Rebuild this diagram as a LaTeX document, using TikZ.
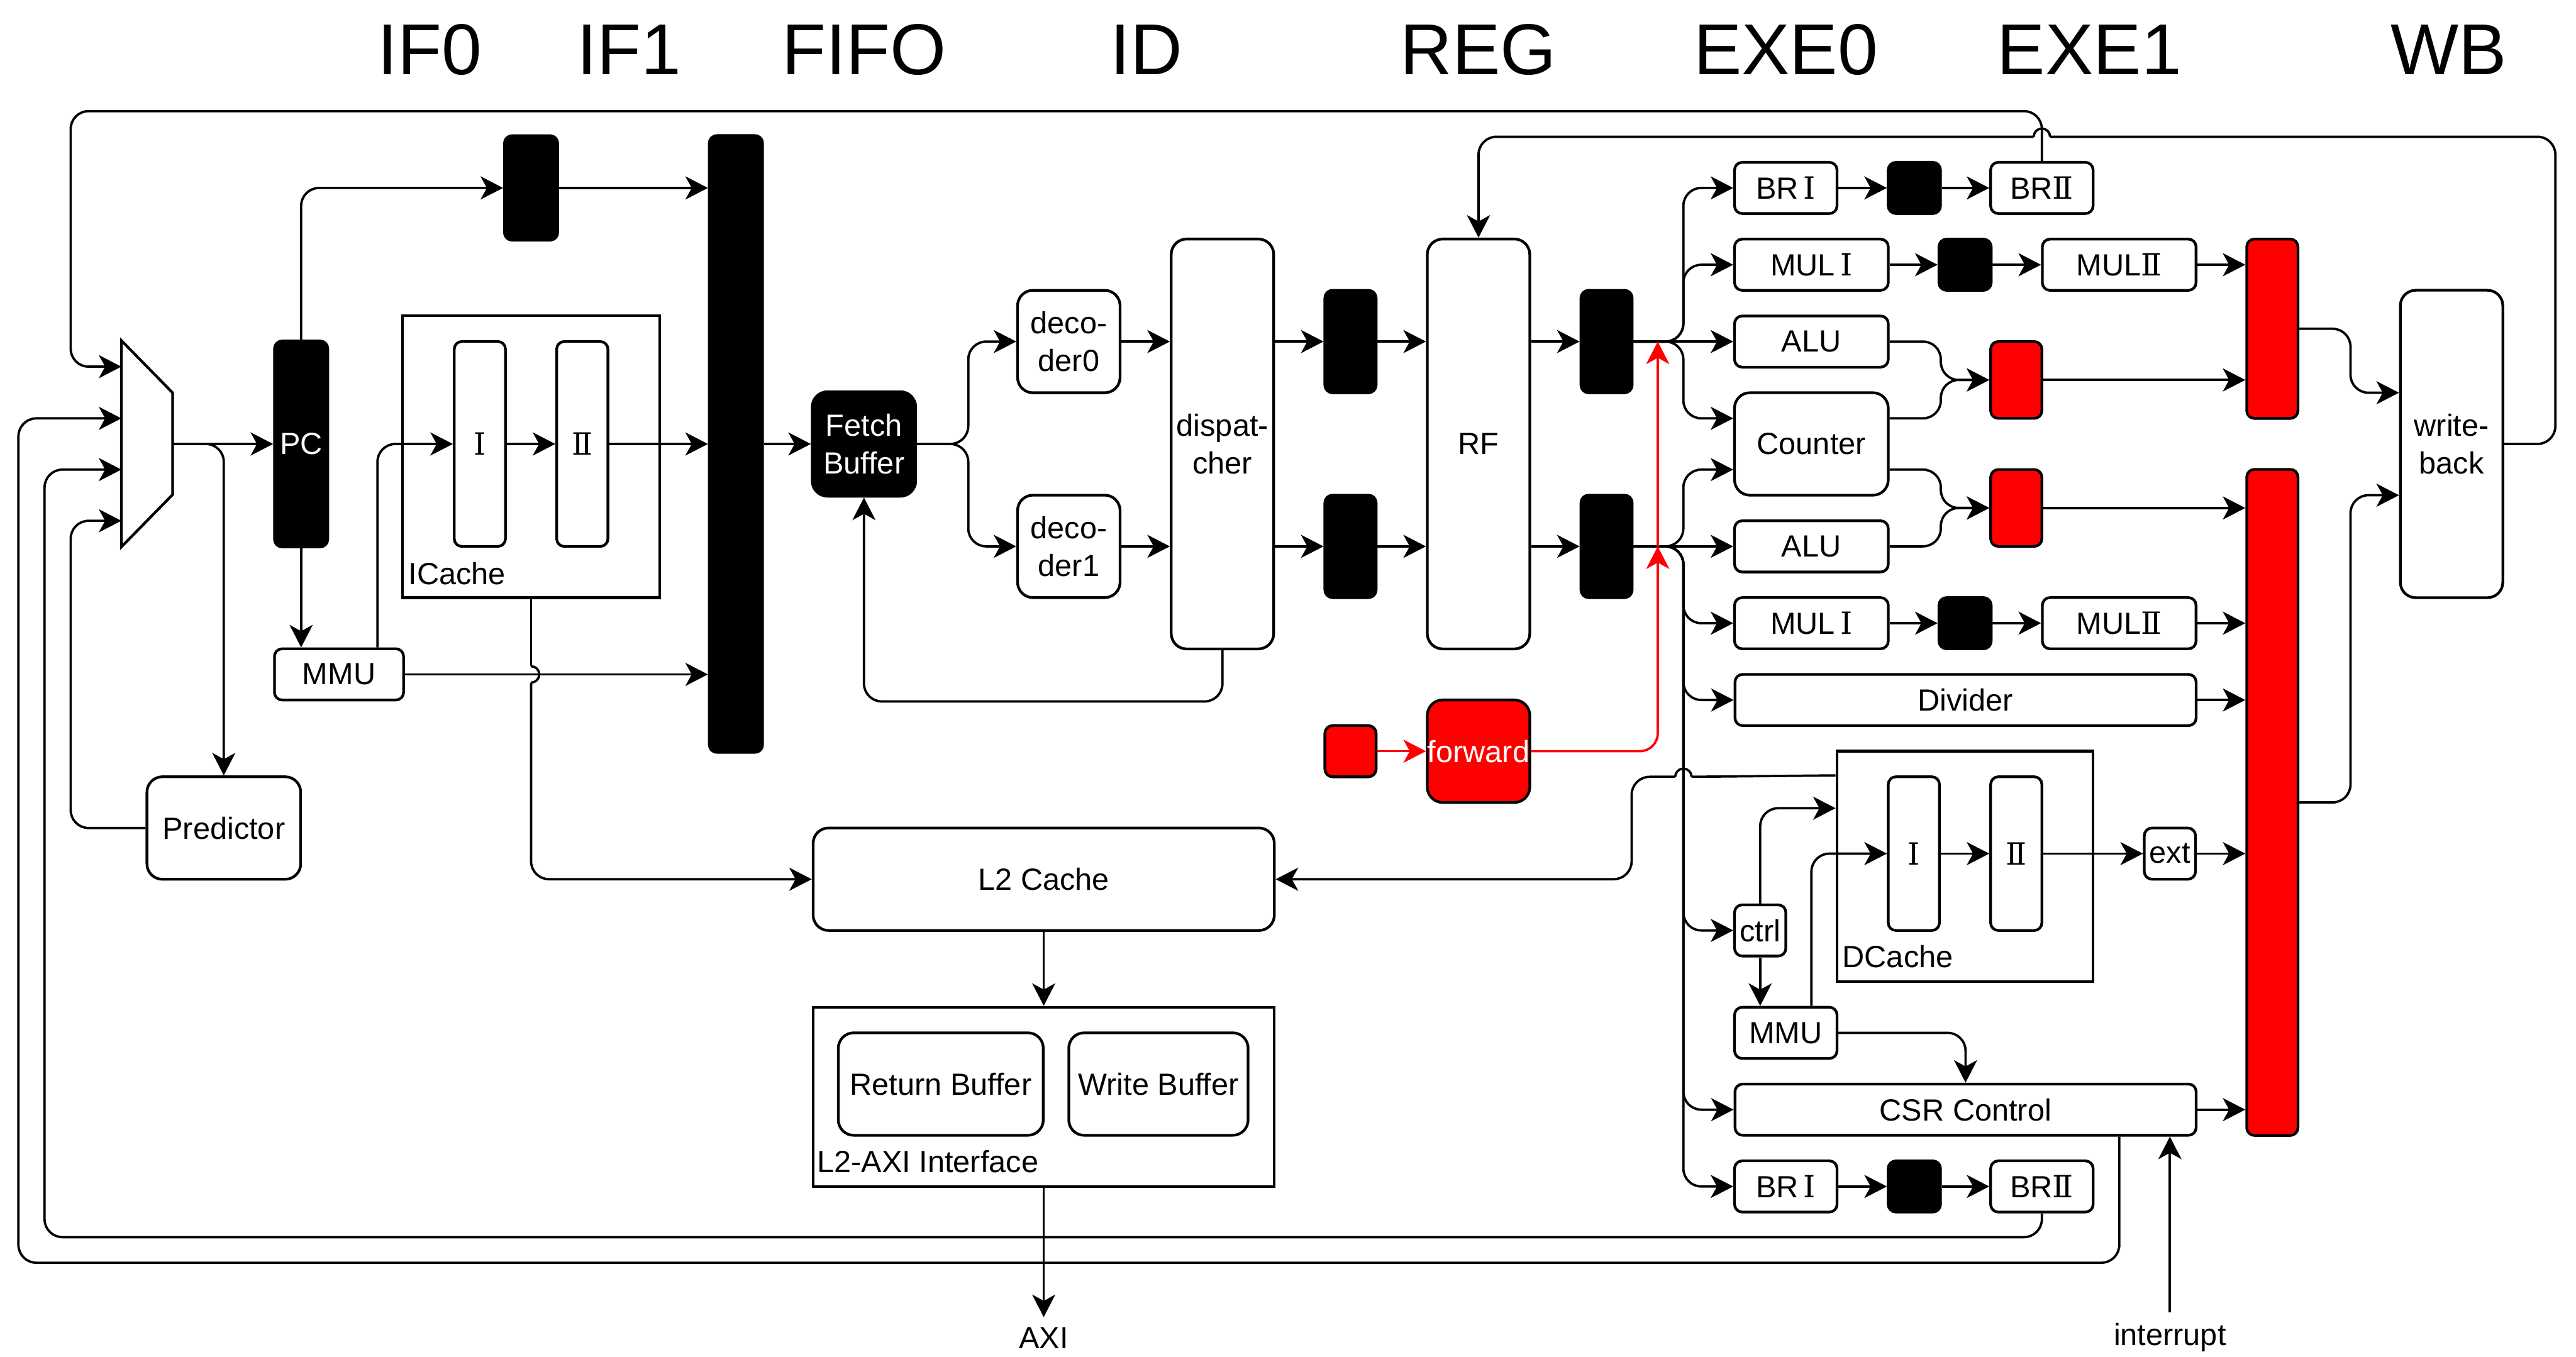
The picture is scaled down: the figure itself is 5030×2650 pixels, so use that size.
\documentclass[tikz,border=0pt]{standalone}
\usepackage{fontspec}
\setmainfont{Liberation Sans}
\newfontfamily\numfont{DejaVu Serif}
\usetikzlibrary{arrows.meta}
\definecolor{alarm}{RGB}{255,0,0}
\newcommand{\lblfont}{\fontsize{17}{21}\selectfont}
\newcommand{\stagefont}{\fontsize{40}{48}\selectfont}
\newcommand{\rnI}{{\numfont Ⅰ}}
\newcommand{\rnII}{{\numfont Ⅱ}}
\tikzset{
  >={Stealth[length=12.5pt,width=12.8pt,inset=3.5pt]},
  box/.style={draw=black,fill=white,line width=1.5pt,rounded corners=1.5mm,
    inner sep=0pt,align=center,font=\lblfont},
  big box/.style={box,rounded corners=3mm},
  reg/.style={box,fill=black,text=white},
  red reg/.style={box,fill=alarm},
  frame/.style={draw=black,line width=1.5pt,inner sep=0pt},
  sz/.style 2 args={minimum width=#1cm,minimum height=#2cm},
  flow/.style={->,line width=1.3pt,draw=#1,rounded corners=3.5mm},
  flow/.default=black,
  wire/.style={line width=1.3pt,rounded corners=3.5mm},
  tag/.style={font=\lblfont,inner sep=0pt},
  stage/.style={font=\stagefont,anchor=base,inner sep=0pt},
}

\begin{document}
\begin{tikzpicture}[x=0.01cm,y=-0.01cm]
  \fill[white] (0,0) rectangle (5030,2650);
  \useasboundingbox (0,0) rectangle (5030,2650);

  % stages
  \node[stage] (s-if0) at (839,145) {IF0};
  \node[stage] (s-if1) at (1228,145) {IF1};
  \node[stage] (s-fifo) at (1687,145) {FIFO};
  \node[stage] (s-id) at (2238,145) {ID};
  \node[stage] (s-reg) at (2887,145) {REG};
  \node[stage] (s-exe0) at (3487,145) {EXE0};
  \node[stage] (s-exe1) at (4080,145) {EXE1};
  \node[stage] (s-wb) at (4781,145) {WB};

  % fetch
  \draw[fill=white,line width=1.5pt] (237,665) -- (337,767) -- (337,966) -- (237,1068) -- cycle;
  \coordinate (mux-in1) at (237,716);
  \coordinate (mux-in2) at (237,817);
  \coordinate (mux-in3) at (237,917);
  \coordinate (mux-in4) at (237,1017);
  \coordinate (mux-out) at (337,867);
  \node[reg,sz={1.04}{4.02}] (pc) at (588,867) {PC};
  \node[reg,sz={1.04}{2.04}] (regif) at (1037,367) {};
  \node[reg,sz={1.04}{12.04}] (fifo) at (1437,867) {};
  \node[frame,sz={5.02}{5.5}] (icache) at (1037,892) {};
  \node[tag,anchor=base west] (icache-lbl) at (797,1141) {ICache};
  \node[box,sz={1}{4}] (ic1) at (937,867) {\rnI};
  \node[box,sz={1}{4}] (ic2) at (1137,867) {\rnII};
  \node[box,sz={2.52}{1}] (immu) at (662,1317) {MMU};
  \node[big box,sz={3}{2}] (pred) at (437,1617) {Predictor};

  % decode
  \node[reg,rounded corners=3mm,sz={2.02}{2.04}] (fb) at (1687,867) {Fetch\\Buffer};
  \node[big box,sz={2}{2}] (dec0) at (2087,667) {deco-\\der0};
  \node[big box,sz={2}{2}] (dec1) at (2087,1067) {deco-\\der1};
  \node[big box,sz={2}{8}] (disp) at (2387,867) {dispat-\\cher};
  \node[reg,sz={1}{2}] (rega) at (2637,667) {};
  \node[reg,sz={1}{2}] (regb) at (2637,1067) {};
  \node[big box,sz={2}{8}] (rf) at (2887,867) {RF};
  \node[reg,sz={1}{2}] (regc) at (3137,667) {};
  \node[reg,sz={1}{2}] (regd) at (3137,1067) {};
  \node[red reg,sz={1}{1}] (fwdin) at (2637,1467) {};
  \node[red reg,rounded corners=3mm,text=white,sz={2}{2}] (fwd) at (2887,1467) {forward};

  % execute
  \node[box,sz={2}{1}] (bra1) at (3487,367) {BR\,\rnI};
  \node[reg,sz={1.02}{1}] (brareg) at (3738,367) {};
  \node[box,sz={2}{1}] (bra2) at (3987,367) {BR\rnII};
  \node[box,sz={3}{1}] (mula1) at (3537,517) {MUL\,\rnI};
  \node[reg,sz={1.02}{1}] (mulareg) at (3837,517) {};
  \node[box,sz={3}{1}] (mula2) at (4138,517) {MUL\rnII};
  \node[box,sz={3}{1}] (alua) at (3537,667) {ALU};
  \node[big box,sz={3}{2}] (cnt) at (3537,867) {Counter};
  \node[box,sz={3}{1}] (alub) at (3537,1067) {ALU};
  \node[box,sz={3}{1}] (mulb1) at (3537,1217) {MUL\,\rnI};
  \node[reg,sz={1.02}{1}] (mulbreg) at (3837,1217) {};
  \node[box,sz={3}{1}] (mulb2) at (4138,1217) {MUL\rnII};
  \node[box,sz={9}{1}] (div) at (3838,1367) {Divider};
  \node[red reg,sz={1}{1.5}] (rra) at (3937,742) {};
  \node[red reg,sz={1}{1.5}] (rrb) at (3937,992) {};

  % memory
  \node[frame,sz={5}{4.5}] (dcache) at (3837,1692) {};
  \node[tag,anchor=base west] (dcache-lbl) at (3597,1889) {DCache};
  \node[box,sz={1}{3}] (dc1) at (3737,1667) {\rnI};
  \node[box,sz={1}{3}] (dc2) at (3937,1667) {\rnII};
  \node[box,sz={1}{1}] (ext) at (4237,1667) {ext};
  \node[box,sz={1}{1}] (ctrl) at (3437,1817) {ctrl};
  \node[box,sz={2}{1}] (dmmu) at (3487,2017) {MMU};
  \node[box,sz={9}{1}] (csr) at (3838,2167) {CSR Control};
  \node[box,sz={2}{1}] (brb1) at (3487,2317) {BR\,\rnI};
  \node[reg,sz={1.02}{1}] (brbreg) at (3738,2317) {};
  \node[box,sz={2}{1}] (brb2) at (3987,2317) {BR\rnII};
  \node[tag,anchor=base,inner sep=2mm] (intr) at (4237,2627) {interrupt};

  % writeback
  \node[red reg,sz={1}{3.5}] (bara) at (4437,642) {};
  \node[red reg,sz={1}{13}] (barb) at (4437,1567) {};
  \node[big box,sz={2}{6}] (wb) at (4787,867) {write-\\back};

  % L2
  \node[big box,sz={9}{2}] (l2) at (2038,1717) {L2 Cache};
  \node[frame,sz={9}{3.5}] (axibox) at (2038,2142) {};
  \node[tag,anchor=base west] (axibox-lbl) at (1595,2289) {L2-AXI Interface};
  \node[big box,sz={4}{2}] (retbuf) at (1837,2117) {Return Buffer};
  \node[big box,sz={3.5}{2}] (wrbuf) at (2262,2117) {Write Buffer};
  \node[tag,anchor=base,inner sep=2mm] (axi) at (2038,2634) {AXI};

  % fetch wires
  \draw[flow] (mux-out) -- (pc.west);
  \draw[flow] (mux-out) -| (pred.north);
  \draw[flow] (pc.north) |- (regif.west);
  \draw[flow] (regif.east) -- (fifo.west |- regif.east);
  \draw[flow] (pc.south) -- (pc.south |- immu.north);
  \draw[flow] ([xshift=7.5mm]immu.north) |- (ic1.west);
  \draw[flow] (ic1) -- (ic2);
  \draw[flow] (ic2.east) -- (fifo.west |- ic2.east);
  \draw[flow] (immu.east) -- (fifo.west |- immu.east);
  \coordinate (jmp-ic) at (icache.south |- immu.east);
  \draw[wire] (icache.south) -- ([yshift=1.6mm]jmp-ic);
  \draw[wire] ([yshift=1.6mm]jmp-ic) arc[start angle=90,end angle=-90,radius=1.6mm];
  \draw[flow] ([yshift=-1.6mm]jmp-ic) |- (l2.west);
  \draw[flow] (fifo.east |- fb.west) -- (fb.west);

  % decode wires
  \draw[flow] (fb.east) -- ++(100,0) |- (dec0.west);
  \draw[flow] (fb.east) -- ++(100,0) |- (dec1.west);
  \draw[flow] (dec0.east) -- (disp.west |- dec0.east);
  \draw[flow] (dec1.east) -- (disp.west |- dec1.east);
  \draw[flow] (disp.east |- rega.west) -- (rega.west);
  \draw[flow] (disp.east |- regb.west) -- (regb.west);
  \draw[flow] (rega.east) -- (rf.west |- rega.east);
  \draw[flow] (regb.east) -- (rf.west |- regb.east);
  \draw[flow] (rf.east |- regc.west) -- (regc.west);
  \draw[flow] (rf.east |- regd.west) -- (regd.west);
  \draw[flow] (disp.south) -- ++(0,100) -| (fb.south);
  \draw[flow=alarm] (fwdin) -- (fwd);

  % issue
  \coordinate (bus) at (3287,0);
  \coordinate (fbus) at (3237,0);
  \draw[flow] (regc.east) -- (bus |- regc.east) |- (bra1.west);
  \draw[flow] (regc.east) -- (bus |- regc.east) |- (mula1.west);
  \draw[flow] (regc.east) -- (alua.west);
  \draw[flow] (regc.east) -- (bus |- regc.east) |- ([yshift=5mm]cnt.west);
  \draw[flow] (regd.east) -- (bus |- regd.east) |- ([yshift=-5mm]cnt.west);
  \draw[flow] (regd.east) -- (alub.west);
  \draw[flow] (regd.east) -- (bus |- regd.east) |- (mulb1.west);
  \draw[flow] (regd.east) -- (bus |- regd.east) |- (div.west);
  \draw[flow] (regd.east) -- (bus |- regd.east) |- (ctrl.west);
  \draw[flow] (regd.east) -- (bus |- regd.east) |- (csr.west);
  \draw[flow] (regd.east) -- (bus |- regd.east) |- (brb1.west);
  \draw[flow=alarm] (fwd.east) -| (fbus |- regd.east);
  \draw[flow=alarm] (fbus |- regd.east) -- (fbus |- regc.east);

  % execute wires
  \draw[flow] (bra1) -- (brareg);
  \draw[flow] (brareg) -- (bra2);
  \draw[flow] (mula1) -- (mulareg);
  \draw[flow] (mulareg) -- (mula2);
  \draw[flow] (mula2.east) -- (bara.west |- mula2.east);
  \draw[flow] (alua.east) -- ++(100,0) |- (rra.west);
  \draw[flow] ([yshift=5mm]cnt.east) -- ++(100,0) |- (rra.west);
  \draw[flow] ([yshift=-5mm]cnt.east) -- ++(100,0) |- (rrb.west);
  \draw[flow] (alub.east) -- ++(100,0) |- (rrb.west);
  \draw[flow] (rra.east) -- (bara.west |- rra.east);
  \draw[flow] (rrb.east) -- (barb.west |- rrb.east);
  \draw[flow] (mulb1) -- (mulbreg);
  \draw[flow] (mulbreg) -- (mulb2);
  \draw[flow] (mulb2.east) -- (barb.west |- mulb2.east);
  \draw[flow] (div.east) -- (barb.west |- div.east);
  \draw[flow] (brb1) -- (brbreg);
  \draw[flow] (brbreg) -- (brb2);

  % memory wires
  \draw[flow] (ctrl.north) |- ([yshift=-11.4mm]dcache.north west);
  \draw[flow] (ctrl.south) -- (ctrl.south |- dmmu.north);
  \draw[flow] ([xshift=5mm]dmmu.north) |- (dc1.west);
  \draw[flow] (dc1) -- (dc2);
  \draw[flow] (dc2) -- (ext);
  \draw[flow] (ext.east) -- (barb.west |- ext.east);
  \draw[flow] (dmmu.east) -| (csr.north);
  \draw[flow] (csr.east) -- (barb.west |- csr.east);
  \draw[flow] (intr.north) -- (intr.north |- csr.south);
  \coordinate (jmp-dc) at (3287,1517);
  \draw[wire] ([yshift=-5mm]dcache.north west) -- ([xshift=1.6mm]jmp-dc);
  \draw[wire] ([xshift=1.6mm]jmp-dc) arc[start angle=0,end angle=180,radius=1.6mm];
  \draw[flow] ([xshift=-1.6mm]jmp-dc) -- ++(-85,0) |- (l2.east);
  \draw[flow] (l2.south) -- (axibox.north);
  \draw[flow] (axibox.south) -- (axi.north);

  % writeback wires
  \draw[flow] (bara.east) -- ++(100,0) |- ([yshift=1cm]wb.west);
  \draw[flow] (barb.east) -- ++(100,0) |- ([yshift=-1cm]wb.west);
  \coordinate (jmp-wb) at (3987,267);
  \draw[wire] (wb.east) -- ++(100,0) |- ([xshift=1.6mm]jmp-wb);
  \draw[wire] ([xshift=1.6mm]jmp-wb) arc[start angle=0,end angle=180,radius=1.6mm];
  \draw[flow] ([xshift=-1.6mm]jmp-wb) -| (rf.north);

  % back to the mux
  \coordinate (loop-a) at (138,217);
  \coordinate (loop-b) at (36,2466);
  \coordinate (loop-c) at (87,2416);
  \draw[flow] (bra2.north) |- (loop-a) |- (mux-in1);
  \draw[flow] ([xshift=3cm]csr.south) |- (loop-b) |- (mux-in2);
  \draw[flow] (brb2.south) |- (loop-c) |- (mux-in3);
  \draw[flow] (pred.west) -- (pred.west -| loop-a) |- (mux-in4);
\end{tikzpicture}
\end{document}
